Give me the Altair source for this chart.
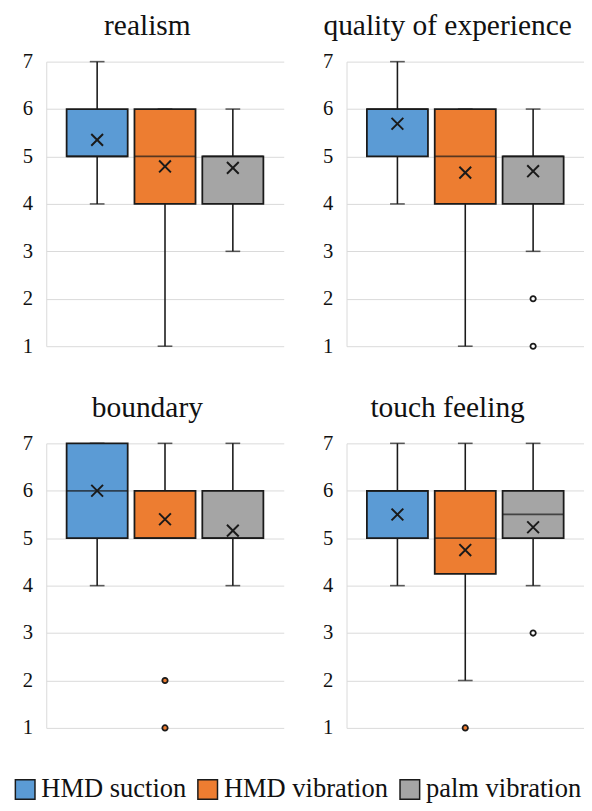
import altair as alt
import pandas as pd

panels = ["realism", "quality of experience", "boundary", "touch feeling"]
conditions = ["HMD suction", "HMD vibration", "palm vibration"]
colors = ["#5B9BD5", "#ED7D31", "#A5A5A5"]

# one inner list per panel, one value per condition
whisker_low = [[4, 1, 3], [4, 1, 3], [4, 5, 4], [4, 2, 4]]
q1_vals = [[5, 4, 4], [5, 4, 4], [5, 5, 5], [5, 4.25, 5]]
median_vals = [[5, 5, 5], [6, 5, 5], [6, 5, 5], [6, 5, 5.5]]
q3_vals = [[6, 6, 5], [6, 6, 5], [7, 6, 6], [6, 6, 6]]
whisker_high = [[7, 6, 6], [7, 6, 6], [7, 7, 7], [7, 7, 7]]
mean_vals = [[5.35, 4.79, 4.76], [5.69, 4.66, 4.69], [6.0, 5.4, 5.16], [5.5, 4.75, 5.23]]

outlier_panel = ["quality of experience", "quality of experience", "boundary",
                 "boundary", "touch feeling", "touch feeling"]
outlier_condition = ["palm vibration", "palm vibration", "HMD vibration",
                     "HMD vibration", "HMD vibration", "palm vibration"]
outlier_value = [2, 1, 2, 1, 1, 3]
outlier_fill = ["#FFFFFF", "#FFFFFF", "#ED7D31", "#ED7D31", "#ED7D31", "#FFFFFF"]

rows = []
for i, p in enumerate(panels):
    for j, c in enumerate(conditions):
        rows.append(dict(panel=p, condition=c, low=whisker_low[i][j], q1=q1_vals[i][j],
                         median=median_vals[i][j], q3=q3_vals[i][j],
                         high=whisker_high[i][j], mean=mean_vals[i][j]))
stats = pd.DataFrame(rows)
outl = pd.DataFrame(dict(panel=outlier_panel, condition=outlier_condition,
                         value=outlier_value, fill=outlier_fill))

FONT = "Liberation Serif"
INK = "#1a1a1a"
W, H = 242, 290
CROSS = "M-1,-1L1,1M-1,1L1,-1"


def make_panel(p, show_legend):
    s = stats[stats.panel == p]
    o = outl[outl.panel == p]
    xenc = alt.X("condition:N", sort=conditions,
                 scale=alt.Scale(domain=conditions, paddingInner=0.1, paddingOuter=0.3),
                 axis=None)
    ysc = alt.Scale(domain=[1, 7], nice=False, zero=False)
    yaxis = alt.Axis(values=[1, 2, 3, 4, 5, 6, 7], title=None, ticks=False, tickSize=0,
                     labelPadding=14, domainColor="#d9d9d9", gridColor="#d9d9d9",
                     labelFont=FONT, labelFontSize=21, labelColor="#111111")
    base = alt.Chart(s)
    whisk = base.mark_rule(color=INK, strokeWidth=1.6).encode(
        x=xenc, y=alt.Y("low:Q", scale=ysc, axis=yaxis), y2="high:Q")
    cap_lo = base.mark_tick(color=INK, size=15, thickness=1.6).encode(
        x=xenc, y=alt.Y("low:Q", scale=ysc, axis=yaxis))
    cap_hi = base.mark_tick(color=INK, size=15, thickness=1.6).encode(
        x=xenc, y=alt.Y("high:Q", scale=ysc, axis=yaxis))
    if show_legend:
        leg = alt.Legend(orient="none", legendX=-35, legendY=728, direction="horizontal",
                         title=None, symbolType="square", symbolSize=400,
                         symbolStrokeColor="black", symbolStrokeWidth=1.5,
                         symbolOpacity=1, labelFont=FONT, labelFontSize=27,
                         labelColor="#111111", labelOffset=3, columnPadding=8,
                         labelLimit=300)
    else:
        leg = alt.Legend(title=None)
    box = base.mark_bar(stroke=INK, strokeWidth=1.8, opacity=1).encode(
        x=xenc, y=alt.Y("q1:Q", scale=ysc, axis=yaxis), y2="q3:Q",
        color=alt.Color("condition:N", sort=conditions,
                        scale=alt.Scale(domain=conditions, range=colors), legend=leg))
    med = base.mark_tick(color=INK, size=62, thickness=1.8).encode(
        x=xenc, y=alt.Y("median:Q", scale=ysc, axis=yaxis))
    mean = base.mark_point(shape=CROSS, size=144, strokeWidth=2, color=INK,
                           filled=False, opacity=1).encode(
        x=xenc, y=alt.Y("mean:Q", scale=ysc, axis=yaxis))
    layers = [whisk, cap_lo, cap_hi, box, med, mean]
    if len(o):
        out = alt.Chart(o).mark_circle(size=30, stroke=INK, strokeWidth=1.8, opacity=1).encode(
            x=xenc, y=alt.Y("value:Q", scale=ysc, axis=yaxis),
            fill=alt.Fill("fill:N", scale=None))
        layers.append(out)
    return alt.layer(*layers).properties(
        width=W, height=H,
        title=alt.TitleParams(p, font=FONT, fontSize=30, fontWeight="normal",
                              color="#111111", anchor="middle", offset=10, dx=-18))


top = alt.hconcat(make_panel(panels[0], True), make_panel(panels[1], False), spacing=39)
bottom = alt.hconcat(make_panel(panels[2], False), make_panel(panels[3], False), spacing=39)
chart = alt.vconcat(top, bottom, spacing=38).properties(
    padding={"left": 4, "top": -4, "right": 0, "bottom": 0}
).configure(font=FONT).configure_view(strokeWidth=0).configure_axis(
    labelFont=FONT, labelFontSize=21, labelColor="#111111"
).configure_legend(labelFont=FONT)

chart.save("out.html", embed_options={"renderer": "svg", "actions": False})
